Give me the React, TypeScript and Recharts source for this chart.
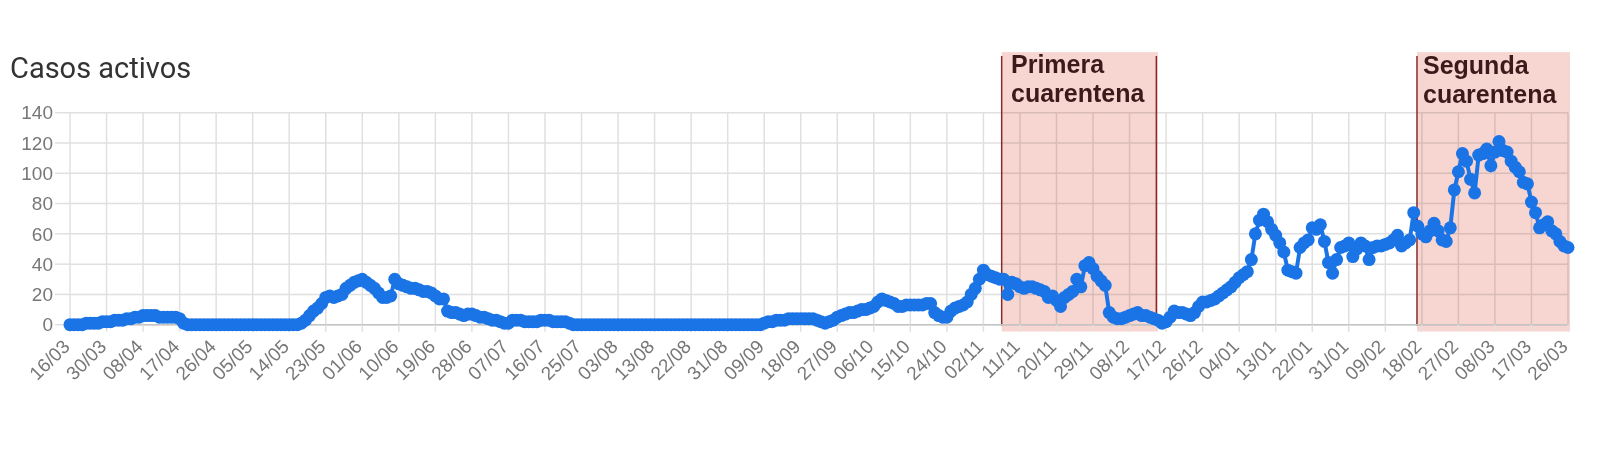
import { CartesianGrid, Line, LineChart, ReferenceArea, ReferenceLine, XAxis, YAxis } from "recharts";

// one label every 9 reports
const TICK_LABELS = [
  "16/03", "30/03", "08/04", "17/04", "26/04", "05/05", "14/05", "23/05", "01/06", "10/06", "19/06",
  "28/06", "07/07", "16/07", "25/07", "03/08", "13/08", "22/08", "31/08", "09/09", "18/09", "27/09",
  "06/10", "15/10", "24/10", "02/11", "11/11", "20/11", "29/11", "08/12", "17/12", "26/12", "04/01",
  "13/01", "22/01", "31/01", "09/02", "18/02", "27/02", "08/03", "17/03", "26/03",
];
const TICK_STEP = 9;

// active cases per report, by period
const ACTIVE_MAR_APR = [
  0, 0, 0, 0, 1, 1, 1, 1, 2, 2,
  2, 3, 3, 3, 4, 4, 5, 5, 6, 6,
  6, 6, 5, 5, 5, 5, 5, 4, 1, 0,
  0, 0, 0, 0, 0, 0, 0, 0, 0, 0, 0, 0, 0, 0, 0,
];
const ACTIVE_MAY_JUN = [
  0, 0, 0, 0, 0, 0, 0, 0, 0, 0, 0, 0,
  1, 3, 6, 9, 11, 14, 18, 19, 18, 19,
  20, 24, 26, 28, 29, 30, 28, 26, 24, 21,
  18, 18, 19, 30, 27, 26, 25, 24, 24, 23,
  22, 22, 21, 19, 17, 17, 9, 8, 8, 7,
  6, 7, 7, 6, 5, 5, 4, 3, 3, 2, 1,
];
const ACTIVE_JUL_AUG = [
  1, 3, 3, 3, 2, 2, 2, 2, 3, 3, 3, 2, 2, 2, 2, 1,
  0, 0, 0, 0, 0, 0, 0, 0, 0, 0, 0, 0, 0, 0, 0, 0,
  0, 0, 0, 0, 0, 0, 0, 0, 0, 0, 0, 0, 0, 0, 0, 0,
  0, 0, 0, 0, 0, 0, 0, 0, 0, 0, 0, 0, 0, 0, 0,
];
const ACTIVE_SEP_OCT = [
  1, 2, 2, 3, 3, 3, 4, 4, 4, 4,
  4, 4, 4, 3, 2, 1, 2, 3, 5, 6,
  7, 8, 8, 9, 10, 10, 11, 12, 15, 17,
  16, 15, 14, 12, 12, 13, 13, 13, 13, 13,
  14, 14, 8, 6, 5, 5, 9, 11, 12, 13,
  15, 20, 24, 30,
];
const ACTIVE_NOV_DEC = [
  36, 33, 32, 31, 30, 30, 20, 28, 27, 25,
  24, 25, 25, 24, 23, 22, 18, 19, 16, 12,
  18, 20, 22, 30, 25, 39, 41, 37, 32, 29,
  26, 8, 5, 4, 4, 5, 6, 7, 8, 6,
  6, 5, 4, 3, 1, 2, 5, 9, 8, 8, 7, 6,
];
const ACTIVE_JAN_FEB = [
  8, 12, 15, 15, 16, 17, 19, 21, 23, 25,
  28, 31, 33, 35, 43, 60, 69, 73, 68, 63,
  59, 54, 48, 36, 35, 34, 51, 54, 56, 64,
  63, 66, 55, 41, 34, 43, 51, 52, 54, 45,
  50, 54, 52, 43, 51, 52, 52, 53, 54, 56,
  59, 52, 54, 56, 74, 65,
];
const ACTIVE_MAR = [
  60, 58, 62, 67, 62, 56, 55, 64, 89, 101,
  113, 108, 96, 87, 112, 113, 116, 105, 114, 121,
  115, 114, 108, 104, 101, 94, 93, 81, 74, 64,
  66, 68, 62, 60, 55, 52, 51,
];

const ACTIVE = [
  ...ACTIVE_MAR_APR, ...ACTIVE_MAY_JUN, ...ACTIVE_JUL_AUG, ...ACTIVE_SEP_OCT,
  ...ACTIVE_NOV_DEC, ...ACTIVE_JAN_FEB, ...ACTIVE_MAR,
];
const Y_TICKS = [0, 20, 40, 60, 80, 100, 120, 140];

// quarantine periods, in report positions
const QUARANTINES = [
  { from: 229.5, to: 268, label: ["Primera", "cuarentena"], rightLine: true },
  { from: 331.8, to: 369.5, label: ["Segunda", "cuarentena"], rightLine: false },
];

const data = ACTIVE.map((v, i) => ({ i, v }));
const xTicks = TICK_LABELS.map((_, k) => k * TICK_STEP);

const BLUE = "#1a74e6";
const GRID = "#e0e0e0";

function XTick({ x, y, payload }: any) {
  const label = TICK_LABELS[Math.round(payload.value / TICK_STEP)];
  const ax = x + 1;
  const ay = y + 14;
  return (
    <text x={ax} y={ay} textAnchor="end" fontSize={19} fill="#777" fontFamily="Liberation Sans, Arial, sans-serif" transform={`rotate(-45 ${ax} ${ay})`}>
      {label}
    </text>
  );
}

function BandShape(props: any) {
  const { x, y, width, height } = props;
  return <rect x={x} y={y} width={width} height={height} fill="#f7d6d1" style={{ mixBlendMode: "multiply" }} />;
}

export default function App() {
  return (
    <div style={{ position: "absolute", left: 0, top: 0, width: 1600, height: 453, background: "#fff" }}>
      <LineChart width={1600} height={453} data={data} margin={{ top: 112.7, right: 32, bottom: 0, left: 0 }}>
        <CartesianGrid stroke={GRID} strokeWidth={1.5} />
        <XAxis
          dataKey="i"
          type="number"
          domain={[0, ACTIVE.length - 1]}
          ticks={xTicks}
          interval={0}
          height={128.3}
          tick={<XTick />}
          tickSize={7}
          tickLine={{ stroke: GRID, strokeWidth: 1.5 }}
          axisLine={{ stroke: "#c4c4c4", strokeWidth: 1.5 }}
        />
        <YAxis
          domain={[0, 140]}
          ticks={Y_TICKS}
          width={70}
          tickSize={15}
          tickMargin={2}
          tickLine={{ stroke: GRID, strokeWidth: 1.5 }}
          axisLine={false}
          tick={{ fontSize: 19, fill: "#777", fontFamily: "Liberation Sans, Arial, sans-serif" }}
        />
        <Line
          dataKey="v"
          stroke={BLUE}
          strokeWidth={4}
          dot={{ r: 6.5, fill: BLUE, stroke: "none" }}
          isAnimationActive={false}
        />
        {QUARANTINES.map((q) => (
          <ReferenceArea key={q.from} x1={q.from} x2={q.to} y1={-4.5} y2={180} ifOverflow="visible" shape={<BandShape />} />
        ))}
        {QUARANTINES.map((q) => (
          <ReferenceLine
            key={"l" + q.from}
            segment={[{ x: q.from, y: 177.5 }, { x: q.from, y: -0.5 }]}
            stroke="#8a2b2b"
            strokeWidth={1.5}
            ifOverflow="visible"
          />
        ))}
        {QUARANTINES.filter((q) => q.rightLine).map((q) => (
          <ReferenceLine
            key={"r" + q.from}
            segment={[{ x: q.to - 0.4, y: 177.5 }, { x: q.to - 0.4, y: -0.5 }]}
            stroke="#8a2b2b"
            strokeWidth={1.5}
            ifOverflow="visible"
          />
        ))}
      </LineChart>
      <svg width={1600} height={453} style={{ position: "absolute", left: 0, top: 0, pointerEvents: "none" }}>
        <text x={10} y={78} fontSize={29} fill="#333" fontFamily="Roboto, sans-serif">
          Casos activos
        </text>
        <g fontFamily="Liberation Sans, Arial, sans-serif" fontWeight="bold" fontSize={25} fill="#3a1a1a">
          <text x={1011} y={73}>{QUARANTINES[0].label[0]}</text>
          <text x={1011} y={102}>{QUARANTINES[0].label[1]}</text>
          <text x={1423} y={74}>{QUARANTINES[1].label[0]}</text>
          <text x={1423} y={103}>{QUARANTINES[1].label[1]}</text>
        </g>
      </svg>
    </div>
  );
}
